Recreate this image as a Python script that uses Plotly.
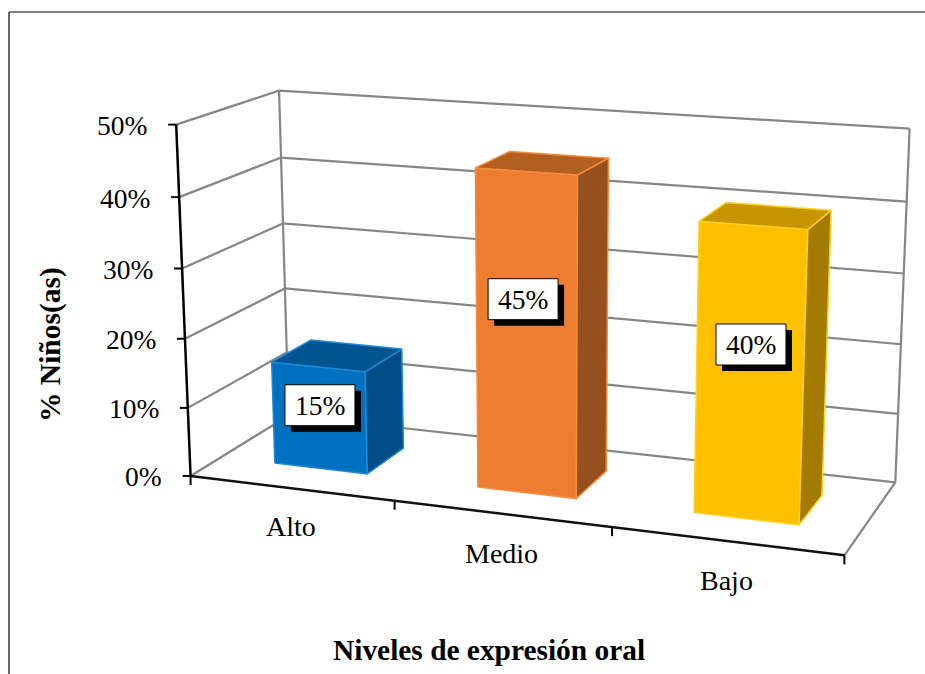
import numpy as np
import plotly.graph_objects as go

categories = ["Alto", "Medio", "Bajo"]
values = [15, 45, 40]
value_ticks = [0, 10, 20, 30, 40, 50]
tick_labels = ["0%", "10%", "20%", "30%", "40%", "50%"]
front_colors = ["#0070C0", "#ED7D31", "#FFC000"]
side_colors = ["#004C86", "#96501E", "#A37B00"]
top_colors = ["#005490", "#B2601F", "#C69500"]
edge_colors = ["#1E88D8", "#F58B3F", "#FFD020"]

# Chart box corners as they appear in the picture: (category, depth, value) -> pixel
model_pts = [(0,0,0),(0,0,50),(0,1,0),(0,1,50),(3,1,50),(3,1,0),(3,0,0),(1,0,0),(2,0,0),
             (0,1,40),(0,1,30),(0,0,40),(3,1,40),(3,1,30)]
pix_pts = [(191,475),(176,125.5),(288,417),(279,90.5),(910,129),(895,482),(845,556),(395,500.5),(611.5,527),
           (281.5,157),(283.5,223),(178.5,197),(906,201.7),(904,273)]
A = []; b = []
for (X,Y,Z),(u,v) in zip(model_pts,pix_pts):
    A.append([X,Y,Z,1,0,0,0,0,-u*X,-u*Y,-u*Z]); b.append(u)
    A.append([0,0,0,0,X,Y,Z,1,-v*X,-v*Y,-v*Z]); b.append(v)
sol = np.linalg.lstsq(np.array(A,float),np.array(b,float),rcond=None)[0]
P = np.append(sol,1).reshape(3,4)

def proj(x,d,v):
    h = P @ np.array([x,d,v,1.0])
    return h[0]/h[2], h[1]/h[2]

fig = go.Figure()
def poly(pts, fill=None, line=None, width=1.5, close=True):
    xs=[p[0] for p in pts]; ys=[p[1] for p in pts]
    if close: xs.append(xs[0]); ys.append(ys[0])
    fig.add_trace(go.Scatter(x=xs,y=ys,mode="lines",fill="toself" if fill else None,fillcolor=fill,
        line=dict(color=line or fill,width=width),hoverinfo="skip",showlegend=False))

GRID="#868686"
for t in value_ticks:
    poly([proj(0,0,t),proj(0,1,t),proj(3,1,t)],line=GRID,width=2.2,close=False)
poly([proj(0,1,0),proj(0,1,50)],line=GRID,width=2.2,close=False)
poly([proj(3,1,0),proj(3,1,50)],line=GRID,width=2.2,close=False)
poly([proj(3,0,0),proj(3,1,0)],line=GRID,width=2.2,close=False)

half_l=0.228; half_r=0.235; d0=0.30; d1=0.71
for i,val in enumerate(values):
    c=i+0.5
    x0,x1=c-half_l,c+half_r
    poly([proj(x0,d0,0),proj(x1,d0,0),proj(x1,d0,val),proj(x0,d0,val)],front_colors[i],edge_colors[i])
    poly([proj(x1,d0,0),proj(x1,d1,0),proj(x1,d1,val),proj(x1,d0,val)],side_colors[i],edge_colors[i])
    poly([proj(x0,d0,val),proj(x1,d0,val),proj(x1,d1,val),proj(x0,d1,val)],top_colors[i],edge_colors[i])

poly([proj(0,0,0),proj(0,0,50)],line="black",width=2.5,close=False)
poly([proj(0,0,0),proj(3,0,0)],line="#111111",width=2.5,close=False)
anns=[]
for t,lab in zip(value_ticks,tick_labels):
    u,w=proj(0,0,t)
    poly([(u-8,w),(u,w)],line="black",width=2,close=False)
    anns.append(dict(x=u-27,y=w+1,text=lab,xanchor="right",yanchor="middle",font=dict(size=27.5)))
for k in range(4):
    u,w=proj(k,0,0)
    poly([(u,w),(u,w+9)],line="black",width=2,close=False)
cat_dy=[38,40,40]
for i,cat in enumerate(categories):
    u,w=proj(i+0.5,0,0)
    anns.append(dict(x=u,y=w+cat_dy[i],text=cat,xanchor="center",yanchor="middle",font=dict(size=28)))

label_frac=0.60
label_dx=[1.5,-2.5,1.5]
label_dy=[-2,-3,0]
shapes=[]
for i,val in enumerate(values):
    u,w=proj(i+0.5,d0,val*label_frac)
    u+=label_dx[i]; w+=label_dy[i]
    shapes.append(dict(type="rect",x0=u-29,x1=u+41,y0=w-15,y1=w+26,fillcolor="black",line=dict(width=0),layer="above"))
    shapes.append(dict(type="rect",x0=u-35,x1=u+35,y0=w-21,y1=w+20,fillcolor="white",line=dict(color="black",width=1),layer="above"))
    anns.append(dict(x=u,y=w,text=f"{val}%",xanchor="center",yanchor="middle",font=dict(size=27.5)))

anns.append(dict(x=489,y=650,text="<b>Niveles de expresión oral</b>",xanchor="center",yanchor="middle",font=dict(size=29.4)))
anns.append(dict(x=50,y=345,text="<b>% Niños(as)</b>",textangle=-90,xanchor="center",yanchor="middle",font=dict(size=29.5)))

for a in anns:
    a.update(xref="x",yref="y",showarrow=False)
shapes.append(dict(type="line",x0=9,x1=925,y0=12,y1=12,line=dict(color="#555555",width=1.5),layer="below"))
shapes.append(dict(type="line",x0=9,x1=9,y0=12,y1=674,line=dict(color="#333333",width=1.5),layer="below"))

fig.update_layout(width=925,height=674,margin=dict(l=0,r=0,t=0,b=0),paper_bgcolor="white",plot_bgcolor="white",
    font=dict(family="Liberation Serif",color="black"),showlegend=False,annotations=anns,shapes=shapes,
    xaxis=dict(range=[0,925],visible=False,fixedrange=True),yaxis=dict(range=[674,0],visible=False,fixedrange=True))
fig.write_html("out.html",config=dict(displayModeBar=False),post_script="document.body.style.margin='0';")
